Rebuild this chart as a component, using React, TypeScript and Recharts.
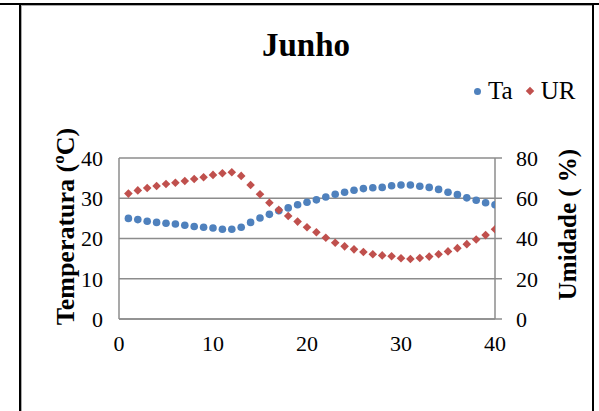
import React from 'react';
import { ScatterChart, Scatter, XAxis, YAxis, CartesianGrid } from 'recharts';

// dias do mês
const dias = [
  1, 2, 3, 4, 5, 6, 7, 8, 9, 10, 11, 12, 13, 14, 15, 16, 17, 18, 19, 20,
  21, 22, 23, 24, 25, 26, 27, 28, 29, 30, 31, 32, 33, 34, 35, 36, 37, 38, 39, 40,
];
// temperatura do ar (ºC)
const ta = [
  25.0, 24.7, 24.3, 24.0, 23.8, 23.6, 23.3, 23.0, 22.8, 22.6, 22.3, 22.3, 22.8, 24.0, 25.1, 26.0, 26.9, 27.6, 28.4, 29.0,
  29.6, 30.3, 31.0, 31.5, 32.0, 32.4, 32.6, 32.7, 33.1, 33.3, 33.3, 33.0, 32.7, 32.2, 31.5, 30.9, 30.1, 29.5, 28.9, 28.4,
];
// umidade relativa (%)
const ur = [
  62.3, 63.9, 65.1, 66.1, 67.1, 67.7, 68.6, 69.6, 70.4, 71.6, 72.4, 72.9, 71.1, 66.6, 62.0, 57.8, 54.2, 51.2, 48.4, 45.6,
  43.1, 40.4, 37.9, 36.1, 34.6, 33.3, 32.2, 31.6, 31.2, 30.2, 29.8, 30.3, 31.0, 32.2, 33.6, 35.2, 37.2, 39.5, 41.7, 44.6,
];
const xTicks = [0, 10, 20, 30, 40];
const taTicks = [0, 10, 20, 30, 40];
const urTicks = [0, 20, 40, 60, 80];

const taData = dias.map((d, i) => ({ dia: d, valor: ta[i] }));
const urData = dias.map((d, i) => ({ dia: d, valor: ur[i] }));

const AZUL = '#4F81BD';
const VERMELHO = '#C0504D';
const CINZA = '#8c8c8c';
const FONTE = '"Liberation Serif", "Times New Roman", serif';

const Bolinha = (props: any) => {
  const { cx, cy } = props;
  return <circle cx={cx} cy={cy} r={3.8} fill={AZUL} />;
};

const Losango = (props: any) => {
  const { cx, cy } = props;
  const s = 4.3;
  return <path d={`M${cx},${cy - s}L${cx + s},${cy}L${cx},${cy + s}L${cx - s},${cy}Z`} fill={VERMELHO} />;
};

const tituloEsq = (props: any) => {
  const { viewBox } = props;
  const x = viewBox.x + 6;
  const y = viewBox.y + viewBox.height / 2 - 12;
  return (
    <text x={x} y={y} transform={`rotate(-90 ${x} ${y})`} textAnchor="middle" dominantBaseline="central"
      fontFamily={FONTE} fontWeight="bold" fontSize={26} fill="#000">
      Temperatura (ºC)
    </text>
  );
};

const tituloDir = (props: any) => {
  const { viewBox } = props;
  const x = viewBox.x + viewBox.width + 12;
  const y = viewBox.y + viewBox.height / 2 - 14;
  return (
    <text x={x} y={y} transform={`rotate(-90 ${x} ${y})`} textAnchor="middle" dominantBaseline="central"
      fontFamily={FONTE} fontWeight="bold" fontSize={25} fill="#000">
      Umidade ( %)
    </text>
  );
};

const tickStyle = { fontFamily: FONTE, fontSize: 22, fill: '#000' };

export default function App() {
  return (
    <div style={{ position: 'absolute', left: 0, top: 0, width: 599, height: 411, background: '#fff', fontFamily: FONTE }}>
      {/* moldura */}
      <div style={{ position: 'absolute', left: 0, top: 3, width: 599, height: 2, background: '#000' }} />
      <div style={{ position: 'absolute', left: 19, top: 3, width: 2, height: 408, background: '#000' }} />
      <div style={{ position: 'absolute', left: 592, top: 3, width: 2, height: 408, background: '#000' }} />
      <div style={{ position: 'absolute', left: 21, top: 5, width: 571, height: 1, background: '#aaa' }} />
      <div style={{ position: 'absolute', left: 21, top: 5, width: 1, height: 406, background: '#aaa' }} />

      <div style={{ position: 'absolute', left: 0, top: 0 }}>
        <ScatterChart width={599} height={411} margin={{ top: 158, left: 59, right: 44, bottom: 62 }}>
          <CartesianGrid vertical={false} stroke={CINZA} strokeWidth={1.5} yAxisId="ta" />
          <XAxis type="number" dataKey="dia" domain={[0, 40]} ticks={xTicks} height={30}
            axisLine={{ stroke: CINZA, strokeWidth: 1.5 }} tickLine={false} tickSize={0} tickMargin={16}
            tick={tickStyle} allowDataOverflow />
          <YAxis yAxisId="ta" type="number" dataKey="valor" domain={[0, 40]} ticks={taTicks} width={60}
            axisLine={{ stroke: CINZA, strokeWidth: 1.5 }} tickLine={false} tickSize={0} tickMargin={16}
            tick={tickStyle} label={{ value: 'Temperatura (ºC)', content: tituloEsq }} />
          <YAxis yAxisId="ur" orientation="right" type="number" dataKey="valor" domain={[0, 80]} ticks={urTicks} width={60}
            axisLine={{ stroke: CINZA, strokeWidth: 1.5 }} tickLine={{ stroke: CINZA, strokeWidth: 1.5 }} tickSize={7} tickMargin={14}
            tick={{ ...tickStyle, textAnchor: 'start' }} label={{ value: 'Umidade ( %)', content: tituloDir }} />
          <Scatter name="Ta" yAxisId="ta" data={taData} shape={Bolinha} isAnimationActive={false} />
          <Scatter name="UR" yAxisId="ur" data={urData} shape={Losango} isAnimationActive={false} />
        </ScatterChart>
      </div>

      {/* título */}
      <div style={{ position: 'absolute', left: 0, width: 612, top: 26, textAlign: 'center', fontWeight: 'bold', fontSize: 33, lineHeight: '38px', color: '#000' }}>
        Junho
      </div>

      {/* legenda */}
      <div style={{ position: 'absolute', left: 474, top: 77, display: 'flex', alignItems: 'center', fontSize: 25, lineHeight: '28px', color: '#000' }}>
        <span style={{ display: 'inline-block', width: 7, height: 7, borderRadius: '50%', background: AZUL, marginRight: 7 }} />
        <span>Ta</span>
        <span style={{ display: 'inline-block', width: 6, height: 6, background: VERMELHO, transform: 'rotate(45deg)', marginLeft: 14, marginRight: 8 }} />
        <span>UR</span>
      </div>
    </div>
  );
}
